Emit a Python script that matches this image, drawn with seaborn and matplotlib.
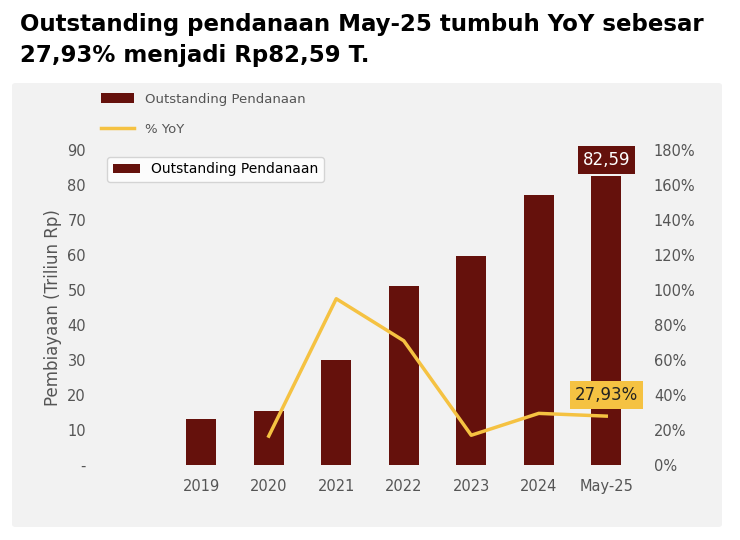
import matplotlib
matplotlib.use("Agg")
import matplotlib.pyplot as plt
import seaborn as sns
import pandas as pd
import numpy as np
from matplotlib.patches import FancyBboxPatch

categories = ["", "2019", "2020", "2021", "2022", "2023", "2024", "May-25"]
outstanding = [np.nan, 13.2, 15.3, 30.0, 51.0, 59.6, 77.0, 82.59]
yoy_cats = ["2020", "2021", "2022", "2023", "2024", "May-25"]
yoy = [0.165, 0.95, 0.71, 0.17, 0.295, 0.2793]
left_ticks = [0, 10, 20, 30, 40, 50, 60, 70, 80, 90]
left_labels = ["-", "10", "20", "30", "40", "50", "60", "70", "80", "90"]
right_ticks = [0, 0.2, 0.4, 0.6, 0.8, 1.0, 1.2, 1.4, 1.6, 1.8]

bar_color = "#65110C"
line_color = "#F5C242"
txt = "#555555"

fig = plt.figure(figsize=(7.4, 5.4), dpi=100)
fig.patches.append(FancyBboxPatch((12/740, 13/540), 710/740, 444/540, boxstyle="round,pad=0,rounding_size=0.005",
                                  transform=fig.transFigure, facecolor="#F2F2F2", edgecolor="none", zorder=-5))
fig.text(0.027, 0.975, "Outstanding pendanaan May-25 tumbuh YoY sebesar", fontsize=16.5, fontweight="bold", va="top", ha="left")
fig.text(0.027, 0.918, "27,93% menjadi Rp82,59 T.", fontsize=16.5, fontweight="bold", va="top", ha="left")

ax = fig.add_axes([100/740, 75/540, 540/740, 315/540])
ax.set_facecolor("none")
ax.set_zorder(2)
df = pd.DataFrame({"cat": categories, "val": outstanding})
sns.barplot(data=df, x="cat", y="val", order=categories, color=bar_color, width=0.45,
            saturation=1, ax=ax, label="Outstanding Pendanaan")
ax.set_ylim(0, 90)
ax.set_yticks(left_ticks)
ax.set_yticklabels(left_labels)
ax.set_xlabel("")
ax.set_ylabel("Pembiayaan (Triliun Rp)", fontsize=12, color=txt)
for s in ax.spines.values():
    s.set_visible(False)
ax.tick_params(length=0, labelsize=10.5, colors=txt, pad=10)

ax2 = ax.twinx()
ax2.set_facecolor("none")
xs = [categories.index(c) for c in yoy_cats]
sns.lineplot(x=xs, y=yoy, color=line_color, lw=2.5, ax=ax2, label="% YoY")
ax2.set_ylim(0, 1.8)
ax2.set_yticks(right_ticks)
ax2.set_yticklabels([f"{int(round(t*100))}%" for t in right_ticks])
for s in ax2.spines.values():
    s.set_visible(False)
ax2.tick_params(length=0, labelsize=10.5, colors=txt, pad=10)
ax2.legend_.remove()
ax.set_xlim(-0.5, 7.5)

h1, l1 = ax.get_legend_handles_labels()
h2, l2 = ax2.get_legend_handles_labels()
ax2.legend(h1 + h2, l1 + l2, loc="upper left", bbox_to_anchor=(-0.02, 1.22), frameon=False,
           fontsize=9.5, labelcolor=txt, labelspacing=1.3, handlelength=2.5)

ax2.text(7, (outstanding[-1] + 2) / 50, "82,59", ha="center", va="bottom", color="white", fontsize=12,
         bbox=dict(boxstyle="square,pad=0.3", fc=bar_color, ec="none"))
ax2.text(xs[-1], yoy[-1] + 0.12, "27,93%", ha="center", va="center", color="#222222", fontsize=12,
         bbox=dict(boxstyle="square,pad=0.3", fc=line_color, ec="none"))

fig.savefig("out.png", dpi=100)
